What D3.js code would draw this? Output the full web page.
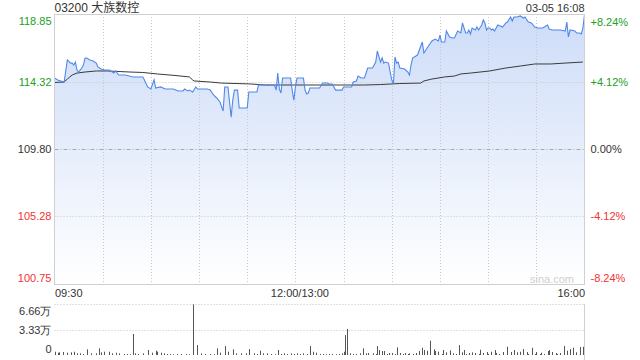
<!DOCTYPE html>
<html>
<head>
<meta charset="utf-8">
<script src="https://cdn.jsdelivr.net/npm/d3@7"></script>
<style>
  body { margin: 0; background: #fff; }
  svg { display: block; font-family: "Liberation Sans", Arial, "Noto Sans CJK SC", sans-serif; }
</style>
</head>
<body>
<div id="chart"></div>
<script>
// Chart data
var title = "03200 大族数控";
var stamp = "03-05 16:08";
var preClose = 109.80;

// trading minutes since 09:30 (12:00 -> 150, 13:00 -> 150, 16:00 -> 330)
var priceMinute = [0,2,6,8,10,11,12,13,14,15,17,18,19,20,22,24,26,27,29,31,34,37,38,40,44,49,55,56,58,60,62,63,66,69,74,77,80,81,83,84,86,88,89,95,97,99,101,103,105,106,108,110,111,112,114,115,120,121,126,127,137,138,139,140,141,142,147,148,149,150,151,155,156,157,158,159,165,167,170,171,173,175,179,180,185,186,188,189,191,193,195,198,200,201,203,204,205,206,208,209,210,211,212,213,214,215,218,220,221,222,223,226,229,230,232,235,237,239,240,241,243,244,246,248,249,251,253,254,256,257,258,259,260,262,263,264,266,267,268,269,270,271,272,273,274,276,279,281,282,284,285,286,288,290,292,293,295,297,299,301,304,307,308,310,315,318,319,320,321,324,325,327,328,329,330];
var price = [114.56,114.43,114.29,115.77,115.56,115.56,115.43,115.63,115.09,114.96,115.23,115.43,115.90,115.90,115.77,115.70,115.56,115.30,115.16,115.09,115.09,114.89,115.03,114.76,114.76,114.63,114.63,114.43,113.96,113.82,114.43,113.89,113.96,113.82,113.82,113.69,113.69,113.82,113.69,113.75,113.62,113.96,113.82,113.82,113.75,113.42,113.22,112.95,112.35,113.96,113.96,111.94,113.08,113.75,113.75,112.55,112.55,113.62,113.62,114.09,114.09,113.75,114.89,113.82,113.55,114.56,114.56,113.75,113.08,113.96,114.56,114.56,113.75,113.49,113.55,113.89,113.89,114.22,114.22,114.16,114.16,113.75,113.75,113.96,113.96,114.29,114.36,114.69,114.56,114.56,115.23,115.23,115.63,116.37,115.63,115.90,115.56,115.63,115.56,114.96,114.43,114.16,115.97,115.56,115.63,115.23,115.16,114.96,114.76,115.43,115.90,116.10,116.97,116.24,116.57,117.04,117.17,117.04,117.44,116.97,116.97,117.71,117.31,117.24,117.24,117.71,117.58,118.25,117.58,117.58,117.78,117.51,117.91,117.78,117.98,117.78,118.11,118.45,118.25,117.78,117.91,117.91,117.78,117.84,117.71,118.11,117.98,118.25,118.31,118.65,118.38,118.65,118.65,118.72,118.58,118.65,118.31,118.25,117.98,117.91,117.91,118.11,117.84,117.78,117.78,117.71,118.31,117.31,117.78,117.71,117.58,117.58,117.51,117.91,118.80];

var avgMinute = [0,6,8,11,14,19,26,33,47,55,64,75,84,86,87,97,104,122,131,153,178,193,203,215,228,230,235,243,249,253,259,271,281,290,299,309,318,329];
var avgPrice = [114.26,114.29,114.49,114.76,114.89,114.96,115.03,115.03,114.96,114.93,114.83,114.73,114.63,114.43,114.36,114.29,114.22,114.16,114.09,114.09,114.09,114.09,114.12,114.19,114.22,114.36,114.49,114.63,114.69,114.83,114.89,115.03,115.23,115.36,115.50,115.50,115.56,115.63];

var volMinute = [0,2,3,5,8,10,12,14,16,18,20,23,26,28,29,31,34,36,38,40,43,45,47,49,50,52,55,58,61,63,64,66,68,70,72,74,76,79,82,84,86,89,91,94,97,99,101,103,106,108,111,113,116,119,121,124,126,128,130,132,135,137,139,141,143,145,147,149,151,153,155,157,159,161,163,165,167,169,171,173,175,177,179,180,181,182,184,186,188,190,192,194,195,198,200,201,202,204,205,207,208,210,212,213,215,217,218,220,221,223,225,227,229,230,232,234,236,237,239,241,242,244,246,248,250,252,254,255,256,258,260,262,264,265,267,269,270,272,274,275,277,279,282,284,286,288,290,292,294,295,297,299,300,302,303,305,307,308,310,312,313,315,317,319,321,323,325,327,329];
var volume = [4300,3000,3500,3900,3000,3500,4300,2200,2200,1300,7400,2200,2200,8700,3500,4300,4300,2200,3000,2200,1300,1300,1000,27400,2200,1300,2200,6500,3000,5600,4300,3000,2200,1300,1300,1000,1300,1300,1300,1000,66000,13000,2200,1300,1300,1000,8700,3000,11700,4300,7400,2200,2200,2200,7800,2200,1300,5600,2200,2200,1300,1000,6500,1300,2200,1300,2200,1300,2200,1300,2200,1300,11700,4300,3000,1300,1300,1000,1300,1300,1000,1300,2200,4300,26000,34000,2200,1300,1300,2200,8700,2200,2600,2200,1300,11700,6500,5200,5200,1300,2600,2600,1300,10000,2600,1300,2600,1300,2200,1300,2600,5200,9500,6500,5600,18700,7400,5200,4300,1300,6500,3500,6100,2200,1300,13000,3500,6500,1300,2600,3500,2600,1300,6900,2600,3900,1300,4300,6500,2600,1300,3900,10800,3900,6500,3500,4300,7800,3900,1300,9500,1300,3900,1300,3000,1300,5200,6500,3900,2600,1300,2600,11700,5600,7800,9500,3500,10400,10800];

var priceTicks = [118.85, 114.32, 109.80, 105.28, 100.75];
var pctLabels = ["+8.24%", "+4.12%", "0.00%", "-4.12%", "-8.24%"];
var timeTicks = [0, 150, 330];
var timeLabels = ["09:30", "12:00/13:00", "16:00"];
var volTicks = [66600, 33300, 0];
var volLabels = ["6.66万", "3.33万", "0"];

// layout
var svgWidth = 640, svgHeight = 360;
var plot = { left: 54.5, right: 584.5, top: 14, bottom: 284 };
var volBox = { top: 304, bottom: 355 };

var green = "#22a022", red = "#f33333", dark = "#333";
function tickColor(v) {
  if (Math.abs(v - preClose) < 0.01) return dark;
  return v > preClose ? green : red;
}

var svg = d3.select("#chart").append("svg")
  .attr("width", svgWidth)
  .attr("height", svgHeight);

var x = d3.scaleLinear().domain([0, 330]).range([plot.left, plot.right]);
var y = d3.scaleLinear().domain([100.75, 118.85]).range([plot.bottom, plot.top]);
var yVol = d3.scaleLinear().domain([0, 66600]).range([volBox.bottom, volBox.top]);

// gradient for the area under the price line
var grad = svg.append("defs").append("linearGradient")
  .attr("id", "areaFill")
  .attr("gradientUnits", "userSpaceOnUse")
  .attr("x1", 0).attr("y1", plot.top)
  .attr("x2", 0).attr("y2", plot.bottom);
grad.append("stop").attr("offset", "0%").attr("stop-color", "#cddcf8");
grad.append("stop").attr("offset", "100%").attr("stop-color", "#ffffff");

var pricePts = d3.zip(priceMinute, price);
var avgPts = d3.zip(avgMinute, avgPrice);

svg.append("path")
  .datum(pricePts)
  .attr("fill", "url(#areaFill)")
  .attr("d", d3.area().x(d => x(d[0])).y0(plot.bottom).y1(d => y(d[1])));

// grid
var grid = svg.append("g");
grid.selectAll("line.v")
  .data(d3.range(30, 330, 30))
  .enter().append("line")
  .attr("x1", d => Math.round(x(d)) + 0.5).attr("x2", d => Math.round(x(d)) + 0.5)
  .attr("y1", plot.top).attr("y2", plot.bottom)
  .attr("stroke", "#c8c8c8")
  .attr("stroke-dasharray", "1,2");

grid.selectAll("line.h")
  .data(priceTicks.slice(1, 4))
  .enter().append("line")
  .attr("x1", plot.left).attr("x2", plot.right)
  .attr("y1", d => Math.round(y(d)) + 0.5).attr("y2", d => Math.round(y(d)) + 0.5)
  .attr("stroke", d => d === preClose ? "#a8a8a8" : "#c8c8c8")
  .attr("stroke-dasharray", d => d === preClose ? "4,2,1,2" : "1,2");

// average price line and price line
svg.append("path")
  .datum(avgPts)
  .attr("fill", "none")
  .attr("stroke", "#3a3a3a")
  .attr("stroke-width", 1)
  .attr("d", d3.line().x(d => x(d[0])).y(d => y(d[1])));

svg.append("path")
  .datum(pricePts)
  .attr("fill", "none")
  .attr("stroke", "#5188ea")
  .attr("stroke-width", 1.1)
  .attr("d", d3.line().x(d => x(d[0])).y(d => y(d[1])));

// plot frame
svg.append("rect")
  .attr("x", plot.left).attr("y", plot.top + 0.5)
  .attr("width", plot.right - plot.left).attr("height", plot.bottom - plot.top)
  .attr("fill", "none")
  .attr("stroke", "#d0d0d0");

// left price axis
var leftAxis = svg.append("g")
  .attr("transform", `translate(${plot.left},0)`)
  .call(d3.axisLeft(y).tickValues(priceTicks).tickSize(0).tickPadding(3).tickFormat(d3.format(".2f")));
leftAxis.select(".domain").remove();
leftAxis.selectAll("text")
  .attr("font-size", 11)
  .attr("font-family", null)
  .attr("fill", d => tickColor(d))
  .attr("dy", (d, i) => i === 0 ? "0.95em" : (i === priceTicks.length - 1 ? "-0.2em" : "0.32em"));

// right percent axis
var rightAxis = svg.append("g")
  .attr("transform", `translate(${plot.right},0)`)
  .call(d3.axisRight(y).tickValues(priceTicks).tickSize(0).tickPadding(6).tickFormat((d, i) => pctLabels[i]));
rightAxis.select(".domain").remove();
rightAxis.selectAll("text")
  .attr("font-size", 11)
  .attr("font-family", null)
  .attr("fill", d => tickColor(d))
  .attr("dy", (d, i) => i === 0 ? "1.0em" : (i === priceTicks.length - 1 ? "-0.2em" : "0.32em"));

// time axis
var timeAxis = svg.append("g")
  .attr("transform", `translate(0,${plot.bottom})`)
  .call(d3.axisBottom(x).tickValues(timeTicks).tickSize(0).tickPadding(5).tickFormat((d, i) => timeLabels[i]));
timeAxis.select(".domain").remove();
timeAxis.selectAll("text")
  .attr("font-size", 11)
  .attr("font-family", null)
  .attr("fill", dark)
  .attr("text-anchor", (d, i) => i === 0 ? "start" : (i === 2 ? "end" : "middle"))
  .attr("dx", (d, i) => i === 1 ? 4 : 0);

// watermark
svg.append("text")
  .attr("x", 574).attr("y", 283)
  .attr("text-anchor", "end")
  .attr("font-size", 11)
  .attr("fill", "#cfcfcf")
  .text("sina.com");

// title and timestamp
svg.append("text")
  .attr("x", plot.left).attr("y", 11.5)
  .attr("font-size", 12)
  .attr("fill", dark)
  .text(title);

svg.append("text")
  .attr("x", plot.right).attr("y", 11.5)
  .attr("text-anchor", "end")
  .attr("font-size", 11)
  .attr("fill", dark)
  .text(stamp);

// volume panel
var volG = svg.append("g");
volG.selectAll("line.grid")
  .data(volTicks.slice(0, 2))
  .enter().append("line")
  .attr("x1", plot.left).attr("x2", plot.right)
  .attr("y1", d => Math.round(yVol(d)) + 0.5).attr("y2", d => Math.round(yVol(d)) + 0.5)
  .attr("stroke", "#c0c0c0")
  .attr("stroke-dasharray", "1,2");

volG.append("line")
  .attr("x1", plot.right).attr("x2", plot.right)
  .attr("y1", volBox.top).attr("y2", svgHeight)
  .attr("stroke", "#d0d0d0");

volG.selectAll("rect.bar")
  .data(d3.zip(volMinute, volume))
  .enter().append("rect")
  .attr("x", d => Math.round(x(d[0])))
  .attr("y", d => yVol(d[1]))
  .attr("width", 1)
  .attr("height", d => yVol(0) - yVol(d[1]))
  .attr("fill", "#555");

var volAxis = svg.append("g")
  .attr("transform", `translate(${plot.left},0)`)
  .call(d3.axisLeft(yVol).tickValues(volTicks).tickSize(0).tickPadding(3).tickFormat((d, i) => volLabels[i]));
volAxis.select(".domain").remove();
volAxis.selectAll("text")
  .attr("font-size", 11)
  .attr("font-family", null)
  .attr("fill", dark)
  .attr("dy", (d, i) => i === 0 ? "0.95em" : (i === 2 ? "-0.25em" : "0.32em"));
</script>
</body>
</html>
